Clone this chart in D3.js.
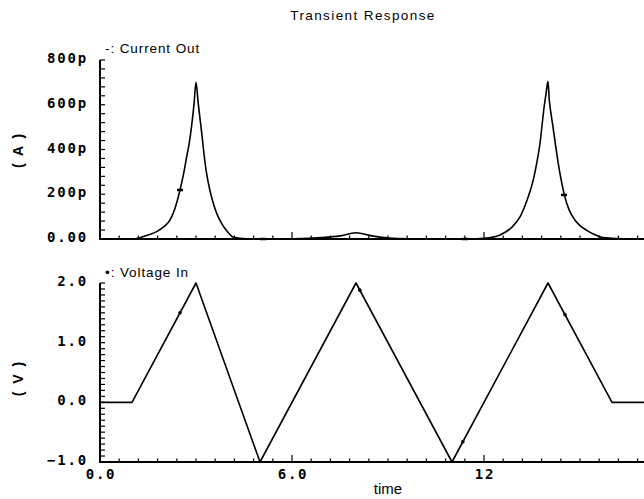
<!DOCTYPE html>
<html><head><meta charset="utf-8">
<script src="https://cdn.jsdelivr.net/npm/d3@7"></script>
<style>
html,body{margin:0;padding:0;background:#fff;}
svg{display:block;}
.tl{font-family:"DejaVu Sans Mono",monospace;font-weight:bold;font-size:14px;letter-spacing:1.8px;fill:#000;}
.tx{font-family:"Liberation Sans",Arial,sans-serif;fill:#000;}
</style></head>
<body>
<script>
// ---- data ----
const currentTime  = [0,1.0,1.25,1.5,1.77,2.0,2.19,2.35,2.5,2.61,2.71,2.79,2.86,2.94,3.0,3.07,3.12,3.18,3.25,3.33,3.43,3.54,3.66,3.8,3.97,4.17,4.6,5.0,5.5,6.25,6.9,7.5,8.0,8.5,9.05,9.6,10.5,11.5,12.0,12.5,12.85,13.13,13.35,13.54,13.65,13.75,13.88,13.94,14.0,14.04,14.1,14.17,14.25,14.32,14.41,14.51,14.66,14.84,15.0,15.2,15.45,15.73,16.3,17.5];
const currentValue = [0,0,6,18,33,55,85,140,219,290,368,430,502,606,700,606,545,472,380,294,220,160,110,70,35,8,1,0,0,2,6,14,28,14,4,1,0,0,3,18,50,100,175,264,340,428,591,651,705,621,555,487,405,338,265,197,130,85,60,40,20,6,1,0]; // pA
const voltageTime  = [0,1.0,3.0,5.0,8.0,11.0,14.0,16.0,17.5];
const voltageValue = [0,0,2.0,-1.0,2.0,-1.0,2.0,0,0];
const currentMarkT = [2.5,5.1,11.4,14.5];
const currentMarkV = [219,0,0,197];
const voltageMarkT = [2.5,8.12,11.34,14.53];
const voltageMarkV = [1.5,1.88,-0.66,1.47];
const xTicks = [0,6,12];
const xTickLabels = ["0.0","6.0","12"];
const iTicks = [0,200,400,600,800];
const iTickLabels = ["0.00","200p","400p","600p","800p"];
const vTicks = [-1,0,1,2];
const vTickLabels = ["\u22121.0","0.0","1.0","2.0"];

const W=644,H=499;
const svg=d3.select("body").append("svg").attr("width",W).attr("height",H);

const x=d3.scaleLinear().domain([0,18]).range([100,676]);
const yI=d3.scaleLinear().domain([0,800]).range([239,60]);
const yV=d3.scaleLinear().domain([-1,2]).range([462,283]);

svg.append("text").attr("class","tx").attr("x",363).attr("y",20).attr("text-anchor","middle")
  .attr("font-size",13.5).attr("letter-spacing",1.4).text("Transient Response");

function panel(yScale, yT, yL, minorStep, unit, unitY, legend, legendY){
  const y0=yScale.range()[0], y1=yScale.range()[1];
  const g=svg.append("g");
  g.append("line").attr("x1",100).attr("x2",100).attr("y1",y1).attr("y2",y0+1).attr("stroke","#000").attr("stroke-width",2);
  g.append("line").attr("x1",99).attr("x2",W).attr("y1",y0).attr("y2",y0).attr("stroke","#000").attr("stroke-width",2);
  const d=yScale.domain();
  const minors=d3.range(d[0],d[1]+minorStep/2,minorStep);
  g.selectAll(".ym").data(minors).join("line").attr("x1",100).attr("x2",105)
    .attr("y1",v=>yScale(v)).attr("y2",v=>yScale(v)).attr("stroke","#000").attr("stroke-width",1.2);
  g.selectAll(".yl").data(yT).join("text").attr("class","tl").attr("x",88).attr("y",v=>yScale(v)+3)
    .attr("text-anchor","end").text((v,i)=>yL[i]);
  const xm=d3.range(0,18.01,0.6);
  g.selectAll(".xm").data(xm).join("line").attr("x1",t=>x(t)).attr("x2",t=>x(t))
    .attr("y1",y0).attr("y2",t=>Math.abs(t/6-Math.round(t/6))<1e-6?y0-7:y0-3.5)
    .attr("stroke","#000").attr("stroke-width",1.2);
  svg.append("text").attr("class","tx").attr("font-size",14).attr("font-weight","bold").attr("letter-spacing",2)
    .attr("transform",`translate(23,${unitY}) rotate(-90)`).attr("text-anchor","middle").text(unit);
  svg.append("text").attr("class","tx").attr("font-size",13.5).attr("letter-spacing",0.9)
    .attr("x",105).attr("y",legendY).text(legend);
  return g;
}
panel(yI,iTicks,iTickLabels,40,"( A )",150,"-:  Current Out",53);
panel(yV,vTicks,vTickLabels,0.1,"( V )",378,"\u2022:  Voltage In",277);

svg.selectAll(".xl").data(xTicks).join("text").attr("class","tl").attr("x",t=>x(t)+1).attr("y",479)
  .attr("text-anchor","middle").text((t,i)=>xTickLabels[i]);
svg.append("text").attr("class","tx").attr("font-size",15).attr("x",388).attr("y",494)
  .attr("text-anchor","middle").text("time");

svg.append("clipPath").attr("id","c").append("rect").attr("x",100).attr("y",0).attr("width",W-100).attr("height",H);
const lineI=d3.line().x(d=>x(d[0])).y(d=>yI(d[1])).curve(d3.curveMonotoneX);
const lineV=d3.line().x(d=>x(d[0])).y(d=>yV(d[1]));
svg.append("path").attr("clip-path","url(#c)").datum(d3.zip(currentTime,currentValue)).attr("d",lineI)
  .attr("fill","none").attr("stroke","#000").attr("stroke-width",1.6).attr("stroke-linejoin","round");
svg.append("path").attr("clip-path","url(#c)").datum(d3.zip(voltageTime,voltageValue)).attr("d",lineV)
  .attr("fill","none").attr("stroke","#000").attr("stroke-width",1.6).attr("stroke-linejoin","round");

svg.selectAll(".mi").data(d3.zip(currentMarkT,currentMarkV)).join("line")
  .attr("x1",d=>x(d[0])-3).attr("x2",d=>x(d[0])+3).attr("y1",d=>yI(d[1])).attr("y2",d=>yI(d[1]))
  .attr("stroke","#000").attr("stroke-width",2.5);
svg.selectAll(".mv").data(d3.zip(voltageMarkT,voltageMarkV)).join("circle")
  .attr("cx",d=>x(d[0])).attr("cy",d=>yV(d[1])).attr("r",1.8).attr("fill","#000");
</script>
</body></html>
